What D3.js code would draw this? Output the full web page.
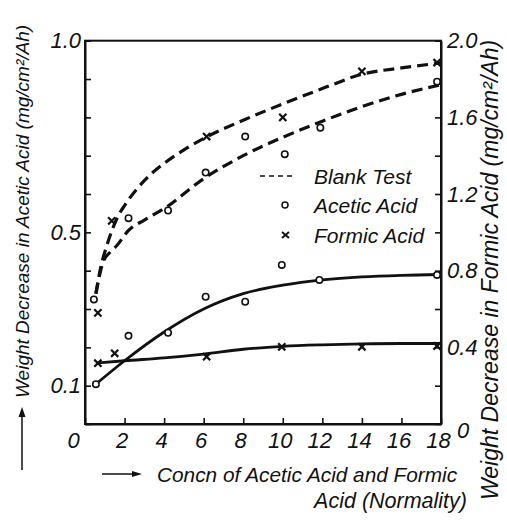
<!DOCTYPE html>
<html>
<head>
<meta charset="utf-8">
<script src="https://cdn.jsdelivr.net/npm/d3@7"></script>
<style>
  html, body { margin: 0; padding: 0; background: #fff; }
  svg { display: block; }
  text { font-family: "Liberation Sans", Arial, sans-serif; font-style: italic; fill: #111; }
</style>
</head>
<body>
<svg id="chart" width="507" height="521"></svg>
<script>
// ---------- data ----------
const xTicks = [0, 2, 4, 6, 8, 10, 12, 14, 16, 18];
const leftTicks = [0, 0.1, 0.2, 0.3, 0.4, 0.5, 0.6, 0.7, 0.8, 0.9, 1.0];
const leftTickLabels = [1.0, 0.5, 0.1];
const rightTicks = [0, 0.2, 0.4, 0.6, 0.8, 1.0, 1.2, 1.4, 1.6, 1.8, 2.0];
const rightTickLabels = [0, 0.4, 0.8, 1.2, 1.6, 2.0];

// Blank test curves (dashed)
const blankFormicCurve = [[0.55,0.68],[0.8,0.82],[1.1,0.93],[1.4,1.02],[1.7,1.09],[2,1.14],[3,1.27],[4,1.36],[5,1.43],[6,1.49],[8,1.585],[10,1.67],[12,1.75],[14,1.825],[16,1.858],[18,1.884]]; // right scale
const blankAceticCurve = [[0.55,0.34],[0.9,0.42],[1.3,0.45],[1.6,0.465],[2.2,0.505],[3,0.532],[4,0.562],[6,0.64],[8,0.70],[10,0.748],[12,0.79],[14,0.828],[16,0.86],[18,0.885]]; // left scale
// Acid curves (solid)
const aceticCurve = [[0.55,0.104],[2,0.165],[4,0.24],[6,0.30],[8,0.34],[10,0.362],[12,0.376],[14,0.384],[16,0.388],[18,0.39]]; // left scale
const formicCurve = [[0.6,0.318],[2,0.33],[4,0.345],[6,0.365],[8,0.39],[10,0.405],[12,0.413],[14,0.418],[16,0.42],[18,0.42]]; // right scale

// Measured points
const aceticBlankPts = [[0.45,0.325],[2.2,0.537],[4.2,0.557],[6.1,0.656],[8.1,0.75],[10.1,0.704],[11.9,0.773],[17.8,0.893]]; // left
const aceticPts = [[0.55,0.104],[2.2,0.23],[4.2,0.238],[6.1,0.332],[8.1,0.319],[9.95,0.415],[11.85,0.376],[17.8,0.389]]; // left
const formicBlankPts = [[0.65,0.58],[1.35,1.06],[6.15,1.50],[10,1.60],[14,1.84],[17.8,1.886]]; // right
const formicPts = [[0.65,0.317],[1.5,0.369],[6.15,0.351],[9.95,0.403],[14,0.403],[17.8,0.407]]; // right

const legendItems = ["Blank Test", "Acetic Acid", "Formic Acid"];

// ---------- layout ----------
const svg = d3.select("#chart");
const L = 85, R = 441, T = 40.7, B = 424;
const x = d3.scaleLinear().domain([0, 18]).range([L, R]);
const yL = d3.scaleLinear().domain([0, 1.0]).range([B, T]);
const yR = d3.scaleLinear().domain([0, 2.0]).range([B, T]);

const FS = 22;

// frame
svg.append("rect").attr("x", L).attr("y", T).attr("width", R - L).attr("height", B - T)
  .attr("fill", "none").attr("stroke", "#111").attr("stroke-width", 2);

// left axis
const gL = svg.append("g").attr("transform", `translate(${L},0)`)
  .call(d3.axisLeft(yL).tickValues(leftTicks).tickSizeInner(-6).tickSizeOuter(0).tickPadding(4)
    .tickFormat(d => leftTickLabels.some(v => Math.abs(v - d) < 1e-9) ? d3.format(".1f")(d) : ""));
// right axis
const gR = svg.append("g").attr("transform", `translate(${R},0)`)
  .call(d3.axisRight(yR).tickValues(rightTicks).tickSizeInner(-6).tickSizeOuter(0).tickPadding(6)
    .tickFormat(d => rightTickLabels.some(v => Math.abs(v - d) < 1e-9) ? (d === 0 ? "0" : d3.format(".1f")(d)) : ""));
// bottom axis
const gB = svg.append("g").attr("transform", `translate(0,${B})`)
  .call(d3.axisBottom(x).tickValues(xTicks).tickSizeInner(-6).tickSizeOuter(0).tickPadding(8)
    .tickFormat(d3.format("d")));

[gL, gR, gB].forEach(g => {
  g.select(".domain").attr("stroke", "#111").attr("stroke-width", 2);
  g.selectAll(".tick line").attr("stroke", "#111").attr("stroke-width", 1.6);
  g.selectAll(".tick text").attr("font-size", FS).attr("font-family", null).attr("fill", "#111");
});
gB.selectAll(".tick text").attr("dx", d => d === 0 ? -12 : -3);
gR.selectAll(".tick text").attr("dy", d => d === 0 ? "0.6em" : "0.32em").attr("dx", d => d === 0 ? 10 : 0);

// ---------- curves ----------
const lineL = d3.line().x(d => x(d[0])).y(d => yL(d[1])).curve(d3.curveMonotoneX);
const lineR = d3.line().x(d => x(d[0])).y(d => yR(d[1])).curve(d3.curveMonotoneX);

svg.append("path").attr("d", lineR(blankFormicCurve)).attr("fill", "none")
  .attr("stroke", "#111").attr("stroke-width", 3.2).attr("stroke-dasharray", "11,6");
svg.append("path").attr("d", lineL(blankAceticCurve)).attr("fill", "none")
  .attr("stroke", "#111").attr("stroke-width", 3.2).attr("stroke-dasharray", "11,6");
svg.append("path").attr("d", lineL(aceticCurve)).attr("fill", "none")
  .attr("stroke", "#111").attr("stroke-width", 2.8);
svg.append("path").attr("d", lineR(formicCurve)).attr("fill", "none")
  .attr("stroke", "#111").attr("stroke-width", 2.8);

// ---------- markers ----------
function circles(data, y) {
  svg.append("g").selectAll("circle").data(data).join("circle")
    .attr("cx", d => x(d[0])).attr("cy", d => y(d[1])).attr("r", 3.2)
    .attr("fill", "#fff").attr("stroke", "#111").attr("stroke-width", 1.6);
}
function crosses(data, y) {
  const s = 3.6;
  svg.append("g").selectAll("path").data(data).join("path")
    .attr("d", d => { const cx = x(d[0]), cy = y(d[1]);
      return `M${cx - s},${cy - s}L${cx + s},${cy + s}M${cx - s},${cy + s}L${cx + s},${cy - s}`; })
    .attr("fill", "none").attr("stroke", "#111").attr("stroke-width", 2.2);
}
circles(aceticBlankPts, yL);
circles(aceticPts, yL);
crosses(formicBlankPts, yR);
crosses(formicPts, yR);

// ---------- legend ----------
const lg = svg.append("g");
const rowsY = [176, 205, 235];
lg.append("line").attr("x1", 260).attr("x2", 293).attr("y1", rowsY[0]).attr("y2", rowsY[0])
  .attr("stroke", "#111").attr("stroke-width", 1.4).attr("stroke-dasharray", "5,4");
lg.append("circle").attr("cx", 285).attr("cy", rowsY[1]).attr("r", 3)
  .attr("fill", "#fff").attr("stroke", "#111").attr("stroke-width", 1.5);
lg.append("path").attr("d", `M282,${rowsY[2]-3}L289,${rowsY[2]+3}M282,${rowsY[2]+3}L289,${rowsY[2]-3}`)
  .attr("stroke", "#111").attr("stroke-width", 2);
lg.selectAll("text").data(legendItems).join("text")
  .attr("x", 314).attr("y", (d, i) => rowsY[i]).attr("dy", "0.36em")
  .attr("font-size", 21).text(d => d);

// ---------- axis titles ----------
// left
svg.append("text").attr("transform", "translate(29,398) rotate(-90)")
  .attr("font-size", 19).attr("text-anchor", "start").text("Weight Decrease in Acetic Acid (mg/cm²/Ah)");
svg.append("line").attr("x1", 22).attr("x2", 22).attr("y1", 470).attr("y2", 410)
  .attr("stroke", "#111").attr("stroke-width", 1.5);
svg.append("path").attr("d", "M18.5,417L22,407L25.5,417Z").attr("fill", "#111");
// right
svg.append("text").attr("transform", "translate(498,500) rotate(-90)")
  .attr("font-size", 23).attr("text-anchor", "start").text("Weight Decrease in Formic Acid (mg/cm²/Ah)");
// bottom
svg.append("line").attr("x1", 102).attr("x2", 136).attr("y1", 474).attr("y2", 474)
  .attr("stroke", "#111").attr("stroke-width", 1.5);
svg.append("path").attr("d", "M132,471L142,474L132,477Z").attr("fill", "#111");
svg.append("text").attr("x", 157).attr("y", 482).attr("font-size", 20.8)
  .text("Concn of Acetic Acid and Formic");
svg.append("text").attr("x", 467).attr("y", 508).attr("font-size", 21.5).attr("text-anchor", "end")
  .text("Acid (Normality)");
</script>
</body>
</html>
